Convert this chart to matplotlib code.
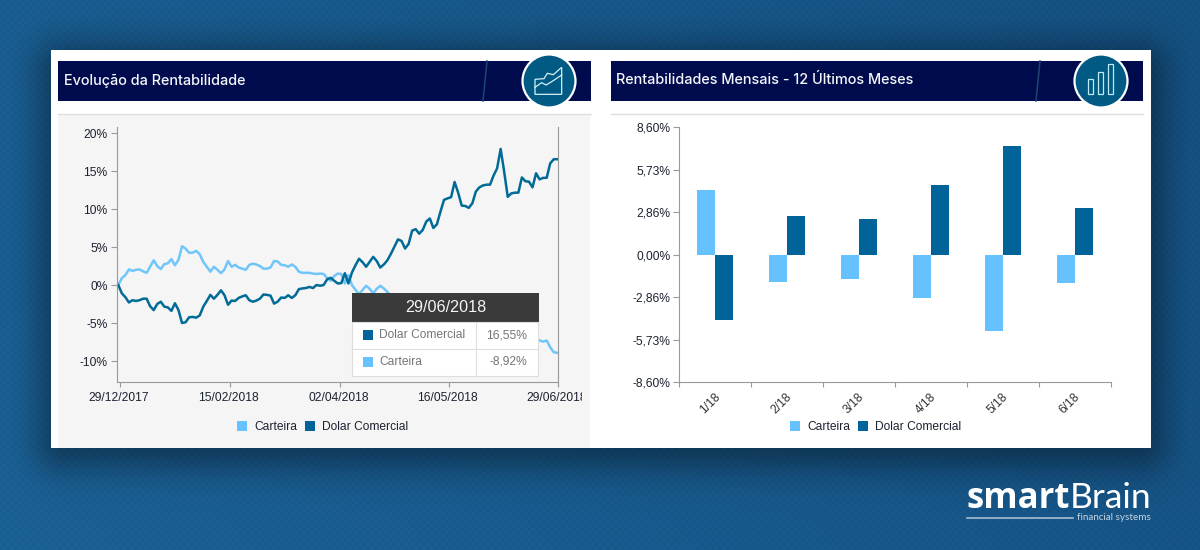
import matplotlib
matplotlib.use("Agg")
import matplotlib.pyplot as plt
import numpy as np
from matplotlib.patches import Circle, Polygon, Rectangle
from matplotlib.transforms import Bbox, ScaledTranslation

W, H = 1200, 550

# Evolucao da Rentabilidade (% acumulado)
dolar = [0, -1.1, -1.6, -2.3, -2.0, -2.1, -2.0, -1.8, -1.8, -2.8,
         -3.3, -2.5, -2.2, -2.85, -2.95, -3.4, -2.4, -3.3, -5.0, -4.9,
         -4.25, -4.2, -4.3, -4.0, -2.85, -2.1, -1.3, -1.8, -1.3, -0.7, -1.35,
         -2.6, -2.05, -2.1, -1.7, -1.5, -1.35, -2.0, -2.2, -2.05, -1.8,
         -1.25, -1.3, -1.4, -2.45, -2.2, -1.65, -1.7, -1.35, -1.7, -1.35,
         -0.55, -0.45, -0.4, -0.25, -0.4, 0,
         -0.1, 0, 0.75, 0.95, 0.55, 0.2, 0.25, 1.55, 0.2, 1.65,
         2.6, 3.45, 3.0, 2.4, 3.05, 3.7, 3.15, 2.3, 2.7, 3.25,
         4.1, 5.05, 6.0, 5.8, 4.8, 5.4, 7.15, 7.35, 6.75, 7.25,
         8.35, 8.75, 7.5, 8.0, 9.65, 11.2, 11.4, 11.55, 13.55, 12.15,
         10.45, 10.4, 10.15, 10.75, 12.3, 12.85, 13.1, 13.2, 13.2, 14.4,
         15.35, 17.9, 14.9, 11.6, 12.05, 12.15, 12.15, 14.15, 13.65, 13.6,
         12.85, 14.7, 13.9, 14.1, 14.1, 16.0, 16.55, 16.55]
# the middle stretch of carteira is behind the tooltip, so it is a rough estimate
carteira = [0, 0.9, 1.3, 2.05, 1.85, 2.0, 2.05, 1.8, 1.6, 2.4,
            3.25, 2.5, 2.1, 2.75, 2.85, 3.4, 2.6, 3.3, 5.1, 4.8,
            4.25, 4.25, 4.5, 4.05, 3.05, 2.4, 1.75, 2.4, 2.0, 1.55, 2.05,
            3.15, 2.4, 2.65, 2.3, 2.15, 2.0, 2.65, 2.8, 2.7, 2.5,
            2.15, 2.15, 2.3, 3.15, 3.1, 2.65, 2.6, 2.4, 2.7, 2.4,
            1.75, 1.6, 1.6, 1.6, 1.5, 1.45,
            1.5, 1.45, 0.9, 0.55, 1.2, 1.5, 1.45, 0.2, 1.3, 0,
            -0.65, -1.2, -0.65, -0.1, -0.5, -1.1, -0.5, -0.1, -0.45, -0.9,
            -1.45, -1.7, -2.0, -2.3, -2.2, -2.5, -3.0, -3.1, -2.9, -3.2,
            -3.5, -3.8, -3.9, -4.3, -4.1, -4.6, -5.0, -5.1, -5.2, -6.0,
            -5.5, -5.0, -5.0, -4.9, -5.2, -5.6, -5.8, -5.9, -6.0, -6.0,
            -6.4, -6.8, -7.6, -6.4, -5.6, -5.8, -5.8, -5.8, -6.6, -6.4,
            -6.9, -7.1, -7.3, -7.45, -7.3, -8.2, -8.85, -8.92]
line_ticks = [0.56, 31.6, 62.6, 93.4, 124.2]
line_tick_labels = ["29/12/2017", "15/02/2018", "02/04/2018", "16/05/2018", "29/06/2018"]
line_yticks = [20, 15, 10, 5, 0, -5, -10]

# Rentabilidades mensais
meses = ["1/18", "2/18", "3/18", "4/18", "5/18", "6/18"]
carteira_mes = [4.39, -1.82, -1.62, -2.90, -5.11, -1.87]
dolar_mes = [-4.39, 2.63, 2.43, 4.73, 7.36, 3.17]
bar_yticks = [8.60, 5.73, 2.86, 0.0, -2.86, -5.73, -8.60]
bar_ytick_labels = ["8,60%", "5,73%", "2,86%", "0,00%", "-2,86%", "-5,73%", "-8,60%"]

NAVY = "#000b4d"
LIGHT = "#66c2ff"
DARK = "#006399"
LINE_LIGHT = "#70c6fa"
LINE_DARK = "#006b96"
AXIS = "#999999"
TXT = "#1c2230"

plt.rcParams["font.family"] = ["Liberation Sans", "DejaVu Sans"]
plt.rcParams["font.size"] = 8.64


def px_axes(fig, x0, y0, x1, y1, **kw):
    # axes placed by pixel box, y measured from the top of the image
    return fig.add_axes([x0 / W, 1 - y1 / H, (x1 - x0) / W, (y1 - y0) / H], **kw)


def background():
    y, x = np.mgrid[0:H, 0:W]
    top = np.array([0x1b, 0x62, 0x97]) / 255
    right = np.array([0x15, 0x52, 0x84]) / 255
    t = np.clip(x / W * 0.8 + (1 - y / H) * 0.2, 0, 1)[..., None]
    img = top * (1 - t) + right * t
    # card shadow, soft and mostly under the card
    dx = np.maximum(np.maximum(66 - x, x - 1136), 0)
    dy = np.maximum(np.maximum(72 - y, y - 440), 0)
    shade = 1 - 0.38 * np.exp(-(np.hypot(dx, dy) / 34) ** 2)
    # dot texture
    dots = (np.cos(2 * np.pi * x / 7.5) * np.cos(2 * np.pi * y / 7.5) + 1) / 2
    img = img * shade[..., None] * (1 - 0.07 * dots[..., None] ** 3)
    return img


def header(ax, x0, x1, title, slash_x, circle_x):
    ax.add_patch(Rectangle((x0, 61), x1 - x0, 40, fc=NAVY, ec="none"))
    ax.plot([slash_x + 4, slash_x], [61, 101], color="#1d4570", lw=1.1)
    ax.plot([x0, x1], [113.5, 113.5], color="#dfdfdf", lw=1)
    ax.text(x0 + 5.5, 80.5, title, color="#f4f6fa", fontsize=10.4, va="center",
            family="Inter", weight="medium")
    ax.add_patch(Circle((circle_x, 81), 26.5, fc="#005a84", ec="white", lw=1.6, zorder=5))


def tooltip(ax):
    ax.add_patch(Rectangle((352, 293), 187, 29, fc="#3a3a3a", ec="none"))
    ax.add_patch(Rectangle((352, 322), 186, 53.5, fc="white", ec="#dddddd", lw=0.8))
    ax.plot([352, 538], [348.7, 348.7], color="#dddddd", lw=0.8)
    ax.plot([476.3, 476.3], [322, 375.5], color="#dddddd", lw=0.8)
    ax.text(445.5, 307.5, line_tick_labels[-1], color="#f5f5f5", fontsize=11.6, ha="center", va="center")
    rows = [("Dolar Comercial", "16,55%", DARK, 335), ("Carteira", "-8,92%", LIGHT, 362)]
    for name, val, col, yy in rows:
        ax.add_patch(Rectangle((363, yy - 5), 10, 10, fc=col, ec="none"))
        ax.text(379, yy, name, color="#757575", fontsize=8.64, va="center")
        ax.text(527, yy, val, color="#757575", fontsize=8.64, va="center", ha="right")


def legend(ax, x_items):
    for x, name, col in x_items:
        ax.add_patch(Rectangle((x, 421), 10, 10, fc=col, ec="none"))
        ax.text(x + 17, 426.5, name, color=TXT, fontsize=8.64, va="center")


fig = plt.figure(figsize=(W / 100, H / 100), dpi=100)

# page: background, card, headers
bg = fig.add_axes([0, 0, 1, 1], zorder=0)
bg.imshow(background(), extent=(0, W, H, 0), aspect="auto", interpolation="nearest")
bg.set_xlim(0, W)
bg.set_ylim(H, 0)
bg.axis("off")
bg.add_patch(Rectangle((51, 50), 1100, 398, fc="white", ec="none"))
bg.add_patch(Rectangle((58, 114), 532, 334, fc="#f5f5f5", ec="none"))
header(bg, 58, 591, "Evolução da Rentabilidade", 483, 549)
header(bg, 611, 1143, "Rentabilidades Mensais - 12 Últimos Meses", 1036, 1101)

# header icons
area = [(225, 133), (225, 88), (252, 86), (262, 70), (280, 74), (305, 52), (305, 133)]
bg.add_patch(Polygon([(460 + a / 3, 50 + b / 3) for a, b in area], fc="none", ec="#d6f0f5", lw=0.9, zorder=6))
inner = [(225, 112), (245, 98), (258, 105), (275, 95), (305, 75)]
bg.plot([460 + a / 3 for a, b in inner], [50 + b / 3 for a, b in inner], color="#d6f0f5", lw=0.9, zorder=6)
for a, b in [(445, 88), (475, 67), (505, 43)]:
    bg.add_patch(Rectangle((940 + a / 3, 50 + b / 3), 4.8, (133 - b) / 3, fc="none", ec="#bfeaf3", lw=0.9, zorder=6))

# logo
bg.text(966, 507.5, "smart", color="white", fontsize=25, family="Open Sans", weight="bold")
bg.text(1151, 507.5, "Brain", color="white", fontsize=25.5, family="Lato", ha="right")
bg.plot([967, 1073], [518, 518], color="#a9bdd2", lw=1.2)
bg.text(1150.5, 518, "financial systems", color="#c5d3e2", fontsize=7.1, family="Lato", ha="right", va="center")

# line chart
ax1 = px_axes(fig, 116.7, 127, 558, 382.3, zorder=2)
ax1.patch.set_visible(False)
xs = np.arange(len(dolar))
ax1.plot(xs, carteira, color=LINE_LIGHT, lw=1.8)
ax1.plot(xs, dolar, color=LINE_DARK, lw=1.8)
step = (557.7 - 118.3) / (len(dolar) - 1)
ax1.set_xlim((116.7 - 118.3) / step, (558 - 118.3) / step)
ax1.set_ylim(-(382.3 - 285) / 7.6, (285 - 127) / 7.6)
ax1.set_xticks(line_ticks, line_tick_labels)
ax1.set_yticks(line_yticks, [f"{v}%" for v in line_yticks])
ax1.spines["top"].set_visible(False)

# bar chart
ax2 = px_axes(fig, 679.3, 127.4, 1111.3, 382.3, zorder=2)
ax2.patch.set_visible(False)
pos = np.arange(len(meses)) + 0.5
ax2.bar(pos - 0.125, carteira_mes, 0.25, color=LIGHT)
ax2.bar(pos + 0.125, dolar_mes, 0.25, color=DARK)
ax2.set_xlim(0, len(meses))
ax2.set_ylim(-8.60, 8.60)
ax2.set_yticks(bar_yticks, bar_ytick_labels)
ax2.set_xticks(np.arange(len(meses) + 1))
ax2.set_xticklabels([])
ax2.spines["top"].set_visible(False)
ax2.spines["right"].set_visible(False)
for p, m in zip(pos, meses):
    ax2.annotate(m, (p, 0), xycoords=ax2.get_xaxis_transform(), xytext=(-1, -6),
                 textcoords="offset points", rotation=45, ha="right", va="top",
                 rotation_mode="anchor", color="#333333")

for ax in (ax1, ax2):
    for s in ax.spines.values():
        s.set_color(AXIS)
        s.set_linewidth(0.8)
    ax.tick_params(axis="both", color=AXIS, width=0.8, labelcolor=TXT, labelsize=8.64)
    ax.tick_params(axis="y", length=4.6, pad=2)
    ax.tick_params(axis="x", length=3.8, pad=3.5)

# date labels sit a little left of their ticks
nudge = ScaledTranslation(-1.5 / 100, 0, fig.dpi_scale_trans)
for lab in ax1.get_xticklabels():
    lab.set_transform(lab.get_transform() + nudge)

# last date label is cut off in the reference
last = ax1.get_xticklabels()[-1]
last.set_clip_on(True)
last.set_clip_box(Bbox([[0, 0], [582, H]]))

# tooltip and legends on top
top = fig.add_axes([0, 0, 1, 1], zorder=5)
top.set_xlim(0, W)
top.set_ylim(H, 0)
top.axis("off")
tooltip(top)
legend(top, [(237, "Carteira", LIGHT), (305, "Dolar Comercial", DARK)])
legend(top, [(790, "Carteira", LIGHT), (858, "Dolar Comercial", DARK)])

fig.savefig("out.png", dpi=100)
